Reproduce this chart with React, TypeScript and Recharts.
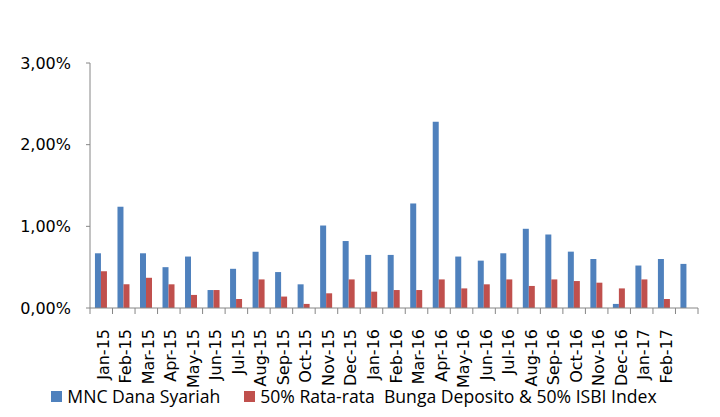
import { BarChart, Bar, XAxis, YAxis, Legend } from "recharts";

const bulan = [
  "Jan-15", "Feb-15", "Mar-15", "Apr-15", "May-15", "Jun-15", "Jul-15", "Aug-15", "Sep-15",
  "Oct-15", "Nov-15", "Dec-15", "Jan-16", "Feb-16", "Mar-16", "Apr-16", "May-16", "Jun-16",
  "Jul-16", "Aug-16", "Sep-16", "Oct-16", "Nov-16", "Dec-16", "Jan-17", "Feb-17", "",
];

const mncDanaSyariah = [
  0.67, 1.24, 0.67, 0.5, 0.63, 0.22, 0.48, 0.69, 0.44, 0.29, 1.01, 0.82, 0.65, 0.65, 1.28,
  2.28, 0.63, 0.58, 0.67, 0.97, 0.9, 0.69, 0.6, 0.05, 0.52, 0.6, 0.54,
];

const benchmark = [
  0.45, 0.29, 0.37, 0.29, 0.16, 0.22, 0.11, 0.35, 0.14, 0.05, 0.18, 0.35, 0.2, 0.22, 0.22,
  0.35, 0.24, 0.29, 0.35, 0.27, 0.35, 0.33, 0.31, 0.24, 0.35, 0.11, null,
];

const yTicks = [0, 1, 2, 3];

const dati = bulan.map((b, i) => ({
  bulan: b,
  mnc: mncDanaSyariah[i],
  bench: benchmark[i],
}));

const formatPersen = (n: number) => n.toFixed(2).replace(".", ",") + "%";

const AXIS = "#868686";

function TickBulan(props: any) {
  const { x, y, payload, index } = props;
  const half = payload && payload.offset ? payload.offset : 11.26;
  const top = y - 8;
  return (
    <g>
      <line x1={x - half} x2={x - half} y1={top} y2={top + 6} stroke={AXIS} />
      {index === bulan.length - 1 && (
        <line x1={x + half} x2={x + half} y1={top} y2={top + 6} stroke={AXIS} />
      )}
      <text
        x={x + 2}
        y={top + 21}
        transform={`rotate(-90, ${x + 2}, ${top + 21})`}
        textAnchor="end"
        dominantBaseline="central"
        fontFamily="DejaVu Sans"
        fontSize={16}
        fill="#000"
      >
        {payload.value}
      </text>
    </g>
  );
}

// legend in series order, not alphabetical
function Legenda({ payload }: any) {
  const voci = [...(payload || [])].sort((a: any, b: any) =>
    a.dataKey === "mnc" ? -1 : b.dataKey === "mnc" ? 1 : 0
  );
  return (
    <div
      style={{
        display: "flex",
        justifyContent: "center",
        alignItems: "center",
        gap: 24,
        fontFamily: "Open Sans",
        fontSize: 17.6,
        color: "#000",
        paddingLeft: 10,
      }}
    >
      {voci.map((v: any) => (
        <div key={v.dataKey} style={{ display: "flex", alignItems: "center" }}>
          <span style={{ width: 11, height: 11, background: v.color, marginRight: 5 }} />
          <span style={{ whiteSpace: "pre" }}>{v.value}</span>
        </div>
      ))}
    </div>
  );
}

export default function App() {
  return (
    <div style={{ position: "absolute", left: 0, top: 0, background: "#fff" }}>
      <BarChart
        width={720}
        height={417}
        data={dati}
        margin={{ top: 63, right: 22, left: 0, bottom: 8 }}
        barCategoryGap="22%"
        barGap={0}
      >
        <XAxis
          dataKey="bulan"
          interval={0}
          height={76}
          stroke={AXIS}
          tickLine={false}
          tick={<TickBulan />}
        />
        <YAxis
          width={90}
          domain={[0, 3]}
          ticks={yTicks}
          tickFormatter={formatPersen}
          stroke={AXIS}
          tickSize={4}
          tickMargin={15}
          tick={{ fill: "#000", fontFamily: "DejaVu Sans", fontSize: 16 }}
        />
        <Legend verticalAlign="bottom" height={25} content={<Legenda />} />
        <Bar dataKey="mnc" name="MNC Dana Syariah" fill="#4F81BD" isAnimationActive={false} />
        <Bar
          dataKey="bench"
          name="50% Rata-rata  Bunga Deposito & 50% ISBI Index"
          fill="#C0504D"
          isAnimationActive={false}
        />
      </BarChart>
    </div>
  );
}
